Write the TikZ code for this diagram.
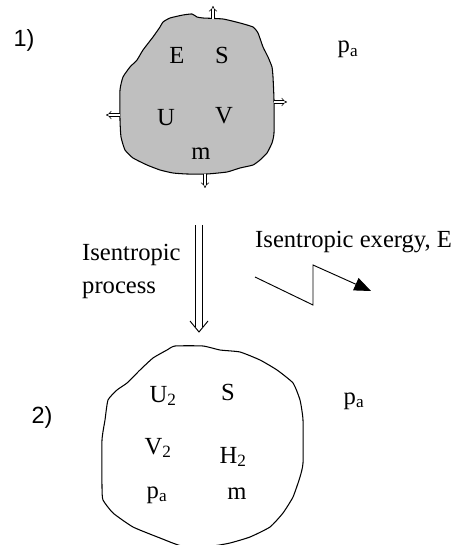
\documentclass[tikz,border=0pt]{standalone}
\usepackage{fontspec}
\setmainfont{Liberation Serif}
\newfontfamily\numfont{Liberation Sans}
\usetikzlibrary{arrows.meta}
\tikzset{
  blobline/.style={line width=0.9pt, line join=round},
  varlabel/.style={font=\fontsize{21}{25}\selectfont, inner sep=0pt, anchor=base},
  steplabel/.style={font=\numfont\fontsize{20}{24}\selectfont, inner sep=0pt, anchor=base},
  pusharrow/.style={double, double distance=2pt, line width=0.5pt, -{Implies}},
  processshaft/.style={double, double distance=5.5pt, line width=0.8pt},
  processhead/.style={line width=0.8pt, line join=miter},
  exergyarrow/.style={line width=0.8pt, -{Triangle[length=5mm, width=4mm]}},
}

\begin{document}
\begin{tikzpicture}[x=0.03cm, y=-0.03cm]
  \useasboundingbox (0,0) rectangle (461,545);
  % state 1
  \draw[blobline, fill=black!25] plot[smooth cycle, tension=0.3] coordinates {
    (163,22) (170,18) (183,15) (192,14) (197,17) (203,18) (223,19) (240,23)
    (253,27) (258,33) (263,47) (268,57) (272,67) (273,77) (274,100) (274,133)
    (272,143) (267,153) (260,160) (253,165) (240,168) (227,172) (207,174)
    (187,174) (173,173) (160,170) (147,165) (133,158) (125,150) (121,137)
    (120,120) (120,90) (123,77) (130,67) (137,60) (143,50) (153,37) (160,27)};
  \coordinate (top1) at (213,19);   \coordinate (top1end) at (213,6);
  \coordinate (left1) at (120,115); \coordinate (left1end) at (106,115);
  \coordinate (right1) at (274,102); \coordinate (right1end) at (287,102);
  \coordinate (bot1) at (205,174);  \coordinate (bot1end) at (205,188);
  \draw[pusharrow] (top1) -- (top1end);
  \draw[pusharrow] (left1) -- (left1end);
  \draw[pusharrow] (right1) -- (right1end);
  \draw[pusharrow] (bot1) -- (bot1end);
  \node[steplabel] (step1) at (24,47) {1)};
  \node[varlabel] (e1) at (177,64) {E};
  \node[varlabel] (s1) at (222,64) {S};
  \node[varlabel] (u1) at (166,126) {U};
  \node[varlabel] (v1) at (224,124) {V};
  \node[varlabel] (m1) at (201,160) {m};
  \node[varlabel] (pa1) at (348,53) {p\textsubscript{a}};

  % process
  \coordinate (procstart) at (199,225);
  \coordinate (procneck) at (199,327);
  \coordinate (procend) at (199,332);
  \coordinate (headleft) at (190,321);
  \coordinate (headright) at (208,321);
  \draw[processshaft] (procstart) -- (procneck);
  \draw[processhead] (headleft) -- (procend) -- (headright);
  \node[varlabel, anchor=base west] (proc) at (82,260) {Isentropic};
  \node[varlabel, anchor=base west] (proc2) at (82,293) {process};
  \node[varlabel, anchor=base west] (exlabel) at (255,248) {Isentropic exergy, E};
  \coordinate (zz0) at (255,277);
  \coordinate (zz1) at (313,305);
  \coordinate (zz2) at (313,265);
  \coordinate (zz3) at (371,291);
  \draw[exergyarrow] (zz0) -- (zz1) -- (zz2) -- (zz3);

  % state 2
  \draw[blobline] plot[smooth cycle, tension=0.3] coordinates {
    (175,346) (203,346) (220,350) (240,352) (260,360) (277,370) (293,383)
    (300,400) (303,420) (303,463) (300,477) (293,497) (283,513) (270,527)
    (250,537) (230,543) (212,546) (182,546) (160,538) (133,527) (113,513)
    (103,500) (102,487) (102,440) (105,420) (108,400) (117,390) (127,383)
    (140,370) (153,358) (167,350)};
  \node[steplabel] (step2) at (42,423) {2)};
  \node[varlabel] (u2) at (163,402) {U\textsubscript{2}};
  \node[varlabel] (s2) at (228,400) {S};
  \node[varlabel] (v2) at (158,454) {V\textsubscript{2}};
  \node[varlabel] (h2) at (233,463) {H\textsubscript{2}};
  \node[varlabel] (pin2) at (157,498) {p\textsubscript{a}};
  \node[varlabel] (m2) at (237,499) {m};
  \node[varlabel] (pa2) at (354,404) {p\textsubscript{a}};
\end{tikzpicture}
\end{document}
